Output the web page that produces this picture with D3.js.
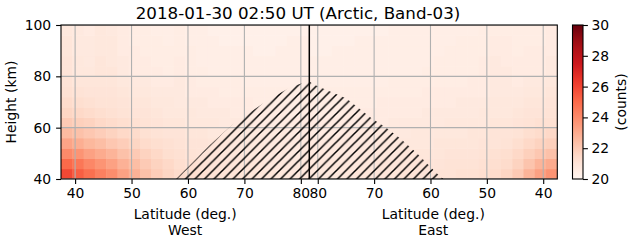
<!DOCTYPE html>
<html>
<head>
<meta charset="utf-8">
<script src="https://cdn.jsdelivr.net/npm/d3@7"></script>
<style>
  body { margin: 0; background: #fff; }
  svg { display: block; font-family: "DejaVu Sans", sans-serif; }
</style>
</head>
<body>
<script>
// ---- data ----
const title = "2018-01-30 02:50 UT (Arctic, Band-03)";
const latTicks = [40, 50, 60, 70, 80];
const heightTicks = [40, 60, 80, 100];
const countTicks = [20, 22, 24, 26, 28, 30];

// cell centres: 2 deg wide, 4 km tall
const heights = [42, 46, 50, 54, 58, 62, 66, 70, 74, 78, 82, 86, 90, 94, 98];
const westLat = [38.5, 40.5, 42.5, 44.5, 46.5, 48.5, 50.5, 52.5, 54.5, 56.5, 58.5,
                 60.5, 62.5, 64.5, 66.5, 68.5, 70.5, 72.5, 74.5, 76.5, 78.5, 80.5];
const eastLat = [80.5, 78.5, 76.5, 74.5, 72.5, 70.5, 68.5, 66.5, 64.5, 62.5, 60.5,
                 58.5, 56.5, 54.5, 52.5, 50.5, 48.5, 46.5, 44.5, 42.5, 40.5, 38.5];

// counts, one row per height (bottom first), west columns in westLat order
const westCounts = [
  [25.9, 25.3, 24.8, 24.3, 23.9, 23.3, 22.8, 22.3, 21.9, 21.6, 21.4, 21.3, 21.2, 21.1, 21.0, 21.0, 20.9, 20.9, 20.9, 20.8, 20.8, 20.8],
  [25.0, 24.6, 24.1, 23.7, 23.3, 22.8, 22.4, 22.0, 21.7, 21.5, 21.3, 21.2, 21.1, 21.0, 21.0, 20.9, 20.9, 20.9, 20.8, 20.8, 20.8, 20.8],
  [24.0, 23.7, 23.3, 23.0, 22.7, 22.3, 22.0, 21.7, 21.5, 21.3, 21.2, 21.1, 21.0, 21.0, 20.9, 20.9, 20.8, 20.8, 20.8, 20.8, 20.7, 20.7],
  [23.2, 22.9, 22.6, 22.4, 22.1, 21.9, 21.6, 21.4, 21.3, 21.2, 21.1, 21.0, 21.0, 20.9, 20.9, 20.8, 20.8, 20.8, 20.7, 20.7, 20.7, 20.7],
  [22.5, 22.3, 22.1, 21.9, 21.7, 21.5, 21.4, 21.2, 21.1, 21.0, 21.0, 20.9, 20.9, 20.8, 20.8, 20.8, 20.7, 20.7, 20.7, 20.7, 20.6, 20.6],
  [22.0, 21.8, 21.7, 21.5, 21.4, 21.3, 21.2, 21.1, 21.0, 20.9, 20.9, 20.8, 20.8, 20.8, 20.7, 20.7, 20.7, 20.6, 20.6, 20.6, 20.6, 20.6],
  [21.6, 21.5, 21.4, 21.3, 21.2, 21.1, 21.0, 21.0, 20.9, 20.8, 20.8, 20.8, 20.7, 20.7, 20.7, 20.6, 20.6, 20.6, 20.6, 20.6, 20.5, 20.5],
  [21.4, 21.3, 21.2, 21.1, 21.1, 21.0, 20.9, 20.9, 20.8, 20.8, 20.7, 20.7, 20.7, 20.6, 20.6, 20.6, 20.6, 20.5, 20.5, 20.5, 20.5, 20.5],
  [21.2, 21.1, 21.0, 21.0, 21.0, 20.9, 20.8, 20.8, 20.7, 20.7, 20.7, 20.6, 20.6, 20.6, 20.5, 20.5, 20.5, 20.5, 20.5, 20.5, 20.5, 20.5],
  [21.1, 20.9, 20.9, 20.9, 20.9, 20.8, 20.7, 20.7, 20.6, 20.6, 20.7, 20.6, 20.5, 20.5, 20.5, 20.5, 20.4, 20.4, 20.4, 20.4, 20.4, 20.4],
  [21.0, 20.8, 20.8, 20.9, 20.9, 20.7, 20.6, 20.6, 20.6, 20.5, 20.6, 20.5, 20.5, 20.4, 20.4, 20.4, 20.4, 20.4, 20.4, 20.4, 20.4, 20.4],
  [21.0, 20.8, 20.7, 20.9, 20.8, 20.7, 20.6, 20.6, 20.5, 20.5, 20.6, 20.5, 20.4, 20.4, 20.4, 20.4, 20.4, 20.4, 20.4, 20.4, 20.4, 20.4],
  [20.9, 20.7, 20.7, 20.8, 20.8, 20.6, 20.6, 20.5, 20.5, 20.5, 20.5, 20.5, 20.4, 20.4, 20.4, 20.4, 20.4, 20.3, 20.3, 20.4, 20.4, 20.4],
  [20.9, 20.7, 20.7, 20.8, 20.8, 20.6, 20.5, 20.5, 20.5, 20.4, 20.5, 20.4, 20.4, 20.4, 20.3, 20.3, 20.3, 20.3, 20.3, 20.3, 20.4, 20.4],
  [20.8, 20.7, 20.6, 20.8, 20.7, 20.6, 20.5, 20.5, 20.4, 20.4, 20.5, 20.4, 20.4, 20.3, 20.3, 20.3, 20.3, 20.3, 20.3, 20.3, 20.3, 20.3]
];
// east columns in eastLat order (left to right on the chart)
const eastCounts = [
  [20.8, 20.8, 20.8, 20.8, 20.9, 20.9, 20.9, 20.9, 21.0, 21.0, 21.0, 21.1, 21.1, 21.2, 21.2, 21.3, 21.4, 21.6, 22.0, 22.7, 23.3, 23.7],
  [20.8, 20.8, 20.8, 20.8, 20.8, 20.8, 20.9, 20.9, 20.9, 21.0, 21.0, 21.0, 21.1, 21.1, 21.1, 21.2, 21.3, 21.4, 21.7, 22.2, 22.7, 23.0],
  [20.7, 20.7, 20.7, 20.7, 20.8, 20.8, 20.8, 20.8, 20.9, 20.9, 20.9, 20.9, 21.0, 21.0, 21.0, 21.1, 21.2, 21.3, 21.5, 21.8, 22.1, 22.3],
  [20.7, 20.7, 20.7, 20.7, 20.7, 20.7, 20.8, 20.8, 20.8, 20.8, 20.8, 20.9, 20.9, 20.9, 20.9, 21.0, 21.0, 21.1, 21.3, 21.5, 21.7, 21.8],
  [20.6, 20.6, 20.6, 20.7, 20.7, 20.7, 20.7, 20.7, 20.7, 20.8, 20.8, 20.8, 20.8, 20.8, 20.9, 20.9, 21.0, 21.0, 21.1, 21.3, 21.4, 21.5],
  [20.6, 20.6, 20.6, 20.6, 20.6, 20.6, 20.6, 20.7, 20.7, 20.7, 20.7, 20.7, 20.8, 20.8, 20.8, 20.8, 20.9, 20.9, 21.0, 21.1, 21.2, 21.2],
  [20.5, 20.5, 20.5, 20.6, 20.6, 20.6, 20.6, 20.6, 20.6, 20.6, 20.7, 20.7, 20.7, 20.7, 20.7, 20.8, 20.8, 20.8, 20.9, 21.0, 21.0, 21.1],
  [20.5, 20.5, 20.5, 20.5, 20.5, 20.5, 20.6, 20.6, 20.6, 20.6, 20.6, 20.6, 20.6, 20.7, 20.7, 20.7, 20.8, 20.8, 20.8, 20.9, 20.9, 21.0],
  [20.5, 20.5, 20.5, 20.5, 20.5, 20.5, 20.5, 20.5, 20.5, 20.5, 20.6, 20.6, 20.6, 20.6, 20.6, 20.6, 20.7, 20.7, 20.7, 20.8, 20.8, 20.9],
  [20.4, 20.4, 20.4, 20.4, 20.4, 20.4, 20.4, 20.5, 20.5, 20.5, 20.5, 20.5, 20.5, 20.5, 20.6, 20.6, 20.7, 20.7, 20.6, 20.7, 20.7, 20.8],
  [20.4, 20.4, 20.4, 20.4, 20.4, 20.4, 20.4, 20.4, 20.4, 20.4, 20.5, 20.5, 20.5, 20.5, 20.5, 20.6, 20.7, 20.7, 20.6, 20.6, 20.6, 20.7],
  [20.4, 20.4, 20.4, 20.4, 20.4, 20.4, 20.4, 20.4, 20.4, 20.4, 20.4, 20.5, 20.5, 20.5, 20.5, 20.6, 20.7, 20.6, 20.6, 20.6, 20.6, 20.7],
  [20.3, 20.3, 20.4, 20.4, 20.4, 20.4, 20.4, 20.4, 20.4, 20.4, 20.4, 20.4, 20.5, 20.5, 20.5, 20.5, 20.6, 20.6, 20.5, 20.6, 20.6, 20.6],
  [20.3, 20.3, 20.3, 20.3, 20.4, 20.4, 20.4, 20.4, 20.4, 20.4, 20.4, 20.4, 20.4, 20.5, 20.5, 20.5, 20.6, 20.6, 20.5, 20.5, 20.5, 20.6],
  [20.3, 20.3, 20.3, 20.3, 20.3, 20.3, 20.3, 20.4, 20.4, 20.4, 20.4, 20.4, 20.4, 20.4, 20.4, 20.5, 20.5, 20.5, 20.5, 20.5, 20.5, 20.6]
];

// hatched (no-data) area, upper edge
const hatchWestLat = [57.9, 60.0, 63.9, 67.8, 71.6, 74.6, 78.4, 81.1, 81.5];
const hatchWestTop = [40.0, 44.6, 53.2, 61.0, 66.9, 71.4, 76.0, 77.9, 78.0];
const hatchEastLat = [81.5, 80.5, 74.9, 70.4, 68.1, 65.4, 62.4, 58.9, 57.7];
const hatchEastTop = [78.0, 76.6, 71.4, 63.6, 60.4, 55.9, 50.0, 42.2, 40.0];

// ---- layout ----
const W = 631, H = 243;
const pL = 61, pR = 557.3, pT = 25, pB = 179;
const mid = 309.3;
const fs = 13.9;

const xW = d3.scaleLinear().domain([37.5, 81.5]).range([pL, mid]);
const xE = d3.scaleLinear().domain([81.5, 37.5]).range([mid, pR]);
const y = d3.scaleLinear().domain([40, 100]).range([pB, pT]);

const reds = ["#fff5f0", "#fee0d2", "#fcbba1", "#fc9272", "#fb6a4a", "#ef3b2c", "#cb181d", "#a50f15", "#67000d"];
const color = d3.scaleLinear()
  .domain(reds.map((d, i) => 20 + i * 10 / 8))
  .range(reds)
  .interpolate(d3.interpolateRgb)
  .clamp(true);

const svg = d3.select("body").append("svg")
  .attr("width", W)
  .attr("height", H);

const defs = svg.append("defs");
defs.append("clipPath").attr("id", "plot")
  .append("rect").attr("x", pL).attr("y", pT)
  .attr("width", pR - pL).attr("height", pB - pT);

const hs = 9.5;
defs.append("pattern").attr("id", "hatch")
  .attr("patternUnits", "userSpaceOnUse")
  .attr("width", hs).attr("height", hs)
  .attr("patternTransform", "translate(3.5,0)")
  .append("path")
  .attr("d", `M0,${hs} L${hs},0 M${-hs / 2},${hs / 2} L${hs / 2},${-hs / 2} M${hs / 2},${hs * 1.5} L${hs * 1.5},${hs / 2}`)
  .attr("stroke", "#000")
  .attr("stroke-width", 1.5);

// heatmap
const plot = svg.append("g").attr("clip-path", "url(#plot)");
const cells = [];
heights.forEach((h, r) => {
  westLat.forEach((lat, c) => cells.push({ x0: xW(lat - 1), x1: xW(lat + 1), h, v: westCounts[r][c] }));
  eastLat.forEach((lat, c) => cells.push({ x0: xE(lat + 1), x1: xE(lat - 1), h, v: eastCounts[r][c] }));
});
plot.selectAll("rect.cell").data(cells).join("rect")
  .attr("class", "cell")
  .attr("x", d => Math.min(d.x0, d.x1))
  .attr("y", d => y(d.h + 2))
  .attr("width", d => Math.abs(d.x1 - d.x0) + 0.5)
  .attr("height", d => y(d.h - 2) - y(d.h + 2) + 0.5)
  .attr("fill", d => color(d.v));

// grid
const grid = plot.append("g").attr("stroke", "#b0b0b0").attr("stroke-width", 1.1);
latTicks.forEach(t => {
  [xW(t), xE(t)].forEach(px => grid.append("line")
    .attr("x1", px).attr("x2", px).attr("y1", pT).attr("y2", pB));
});
heightTicks.forEach(t => grid.append("line")
  .attr("x1", pL).attr("x2", pR).attr("y1", y(t)).attr("y2", y(t)));

// hatched area
const hatchPts = hatchWestLat.map((d, i) => [xW(d), y(hatchWestTop[i])])
  .concat(hatchEastLat.map((d, i) => [xE(d), y(hatchEastTop[i])]));
plot.append("path")
  .attr("d", d3.line()(hatchPts) + "Z")
  .attr("fill", "url(#hatch)")
  .attr("stroke", "none");

// centre line
svg.append("line")
  .attr("x1", mid).attr("x2", mid).attr("y1", pT).attr("y2", pB)
  .attr("stroke", "#000").attr("stroke-width", 1.5);

// frame
svg.append("rect")
  .attr("x", pL).attr("y", pT)
  .attr("width", pR - pL).attr("height", pB - pT)
  .attr("fill", "none").attr("stroke", "#000").attr("stroke-width", 1.1);

function styleAxis(g) {
  g.select(".domain").remove();
  g.selectAll(".tick line").attr("stroke", "#000").attr("stroke-width", 1.1);
  g.selectAll(".tick text").attr("fill", "#000").style("font-size", fs + "px")
    .style("font-family", "DejaVu Sans, sans-serif");
}

svg.append("g").attr("transform", `translate(0,${pB})`)
  .call(d3.axisBottom(xW).tickValues(latTicks).tickSize(4.9).tickPadding(4.5))
  .call(styleAxis);
svg.append("g").attr("transform", `translate(0,${pB})`)
  .call(d3.axisBottom(xE).tickValues(latTicks).tickSize(4.9).tickPadding(4.5))
  .call(styleAxis);
svg.append("g").attr("transform", `translate(${pL},0)`)
  .call(d3.axisLeft(y).tickValues(heightTicks).tickSize(4.9).tickPadding(4.9))
  .call(styleAxis);

// labels
svg.append("text").attr("x", 298).attr("y", 18.5)
  .attr("text-anchor", "middle").style("font-size", "16.7px").text(title);

svg.append("text")
  .attr("transform", `translate(16,${(pT + pB) / 2}) rotate(-90)`)
  .attr("text-anchor", "middle").style("font-size", fs + "px").text("Height (km)");

[[(pL + mid) / 2, "West"], [(mid + pR) / 2, "East"]].forEach(([cx, side]) => {
  const t = svg.append("text").attr("text-anchor", "middle").style("font-size", fs + "px");
  t.append("tspan").attr("x", cx).attr("y", 218.5).text("Latitude (deg.)");
  t.append("tspan").attr("x", cx).attr("y", 234.5).text(side);
});

// colour bar
const cbX = 572.5, cbW = 10.5;
const cy = d3.scaleLinear().domain([20, 30]).range([pB, pT]);
const grad = defs.append("linearGradient").attr("id", "cbar")
  .attr("x1", 0).attr("y1", 1).attr("x2", 0).attr("y2", 0);
d3.range(0, 1.0001, 0.05).forEach(t => grad.append("stop")
  .attr("offset", t).attr("stop-color", color(20 + t * 10)));
svg.append("rect").attr("x", cbX).attr("y", pT)
  .attr("width", cbW).attr("height", pB - pT)
  .attr("fill", "url(#cbar)").attr("stroke", "#000").attr("stroke-width", 1.1);
svg.append("g").attr("transform", `translate(${cbX + cbW},0)`)
  .call(d3.axisRight(cy).tickValues(countTicks).tickSize(4.9).tickPadding(3.5))
  .call(styleAxis);
svg.append("text")
  .attr("transform", `translate(626,${(pT + pB) / 2}) rotate(-90)`)
  .attr("text-anchor", "middle").style("font-size", fs + "px").text("(counts)");
</script>
</body>
</html>
